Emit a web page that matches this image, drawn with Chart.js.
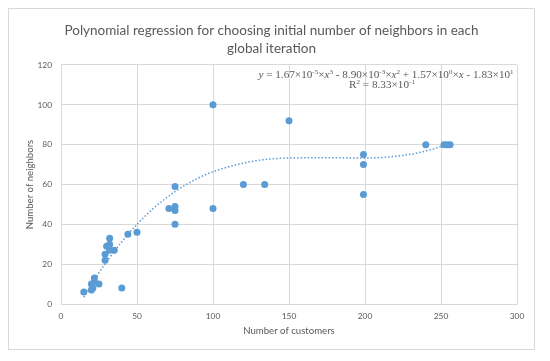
<!DOCTYPE html>
<html>
<head>
<meta charset="utf-8">
<script src="https://cdn.jsdelivr.net/npm/chart.js@4/dist/chart.umd.min.js"></script>
<style>
  html, body { margin: 0; padding: 0; background: #ffffff; }
  #wrap { width: 550px; height: 361px; position: relative; }
</style>
</head>
<body>
<div id="wrap"><canvas id="c" width="550" height="361"></canvas></div>
<script>
// ---- data ----
const customers = [15, 20, 20, 21, 22, 22, 25, 29, 29, 30, 32, 32, 32, 35, 40, 44, 50, 71, 75, 75, 75, 75, 100, 100, 120, 134, 150, 199, 199, 199, 240, 252, 254, 256];
const neighbors = [6, 7, 10, 8, 13, 11, 10, 22, 25, 29, 30, 33, 27, 27, 8, 35, 36, 48, 49, 47, 59, 40, 100, 48, 60, 60, 92, 75, 70, 55, 80, 80, 80, 80];
// dotted trendline, read at these x positions
const trendX = [15, 20, 25, 30, 40, 50, 60, 75, 90, 100, 125, 150, 175, 200, 225, 240, 256];
const trendY = [3.3, 9.7, 15.7, 21.2, 31.3, 40.0, 47.5, 56.4, 63.1, 66.4, 71.5, 73.3, 73.4, 73.3, 74.6, 76.8, 80.5];
const xTicks = [0, 50, 100, 150, 200, 250, 300];
const yTicks = [0, 20, 40, 60, 80, 100, 120];
const titleLines = ['Polynomial regression for choosing initial number of neighbors in each', 'global iteration'];
const xTitle = 'Number of customers';
const yTitle = 'Number of neighbors';
// equation label runs (text, italic, superscript)
const eqLine1 = [
  ['y', 1, 0], [' = 1.67×10', 0, 0], ['-5', 0, 1], ['×', 0, 0], ['x', 1, 0], ['3', 0, 1],
  [' - 8.90×10', 0, 0], ['-3', 0, 1], ['×', 0, 0], ['x', 1, 0], ['2', 0, 1],
  [' + 1.57×10', 0, 0], ['0', 0, 1], ['×', 0, 0], ['x', 1, 0],
  [' - 1.83×10', 0, 0], ['1', 0, 1]
];
const eqLine2 = [['R', 0, 0], ['2', 0, 1], [' = 8.33×10', 0, 0], ['-1', 0, 1]];

const GREY = '#595959';
const GRID = '#d9d9d9';
const BLUE = '#5b9bd5';

const scatterPts = customers.map((x, i) => ({ x: x, y: neighbors[i] }));
const trendPts = trendX.map((x, i) => ({ x: x, y: trendY[i] }));

const frame = {
  id: 'frame',
  beforeDraw(chart) {
    const ctx = chart.ctx;
    ctx.save();
    ctx.fillStyle = '#ffffff';
    ctx.fillRect(0, 0, chart.width, chart.height);
    ctx.strokeStyle = GRID;
    ctx.lineWidth = 1;
    ctx.strokeRect(8.5, 8.5, 526, 341);
    ctx.restore();
  }
};

function drawRuns(ctx, runs, cx, baseline, size) {
  const supSize = Math.round(size * 0.62);
  const fontFor = (r) => (r[1] ? 'italic ' : '') + (r[2] ? supSize : size) + 'px "Liberation Serif", "Times New Roman", serif';
  let total = 0;
  runs.forEach(r => { ctx.font = fontFor(r); total += ctx.measureText(r[0]).width; });
  let x = cx - total / 2;
  runs.forEach(r => {
    ctx.font = fontFor(r);
    ctx.fillText(r[0], x, baseline - (r[2] ? size * 0.38 : 0));
    x += ctx.measureText(r[0]).width;
  });
}

const equation = {
  id: 'equation',
  afterDatasetsDraw(chart) {
    const ctx = chart.ctx;
    ctx.save();
    ctx.fillStyle = GREY;
    ctx.textBaseline = 'alphabetic';
    ctx.textAlign = 'left';
    drawRuns(ctx, eqLine1, 386, 78, 11.2);
    drawRuns(ctx, eqLine2, 382, 88, 11.2);
    ctx.restore();
  }
};

const tickFont = { family: 'Lato, sans-serif', size: 8.4 };
const axTitleFont = { family: 'Lato, sans-serif', size: 9.6 };

new Chart(document.getElementById('c'), {
  type: 'scatter',
  data: {
    datasets: [
      {
        label: 'data',
        data: scatterPts,
        backgroundColor: BLUE,
        borderColor: BLUE,
        pointRadius: 3.5,
        pointHoverRadius: 3.5,
        borderWidth: 0,
        order: 0
      },
      {
        label: 'trend',
        data: trendPts,
        showLine: true,
        borderColor: BLUE,
        borderWidth: 1.5,
        borderDash: [1.5, 2],
        pointRadius: 0,
        cubicInterpolationMode: 'monotone',
        fill: false,
        order: 1
      }
    ]
  },
  options: {
    responsive: false,
    animation: false,
    devicePixelRatio: 1,
    layout: { padding: { top: 22, right: 7, bottom: 0, left: 0 } },
    plugins: {
      legend: { display: false },
      tooltip: { enabled: false },
      title: {
        display: true,
        text: titleLines,
        color: GREY,
        font: { family: 'Lato, "Open Sans", sans-serif', size: 13.5, weight: 'normal', lineHeight: 1.333 },
        padding: { top: 0, bottom: 7 }
      }
    },
    scales: {
      x: {
        type: 'linear',
        min: 0, max: 300,
        afterBuildTicks(scale) { scale.ticks = xTicks.map(v => ({ value: v })); },
        afterFit(scale) { scale.height = 57; },
        grid: { color: GRID, lineWidth: 1, drawTicks: false },
        border: { color: GRID },
        ticks: { color: GREY, padding: 7, font: tickFont, maxRotation: 0 },
        title: { display: true, text: xTitle, color: GREY, font: axTitleFont, padding: { top: 0, bottom: 24 } }
      },
      y: {
        type: 'linear',
        min: 0, max: 120,
        afterBuildTicks(scale) { scale.ticks = yTicks.map(v => ({ value: v })); },
        afterFit(scale) { scale.width = 61; },
        grid: { color: GRID, lineWidth: 1, drawTicks: false },
        border: { color: GRID },
        ticks: { color: GREY, padding: 9, font: tickFont },
        title: { display: true, text: yTitle, color: GREY, font: axTitleFont, padding: { top: 24, bottom: 0 } }
      },
      spacer: {
        type: 'linear',
        position: 'right',
        display: true,
        afterFit(scale) { scale.width = 26; },
        grid: { display: false, drawTicks: false },
        border: { display: false },
        ticks: { display: false }
      }
    }
  },
  plugins: [frame, equation]
});
</script>
</body>
</html>
